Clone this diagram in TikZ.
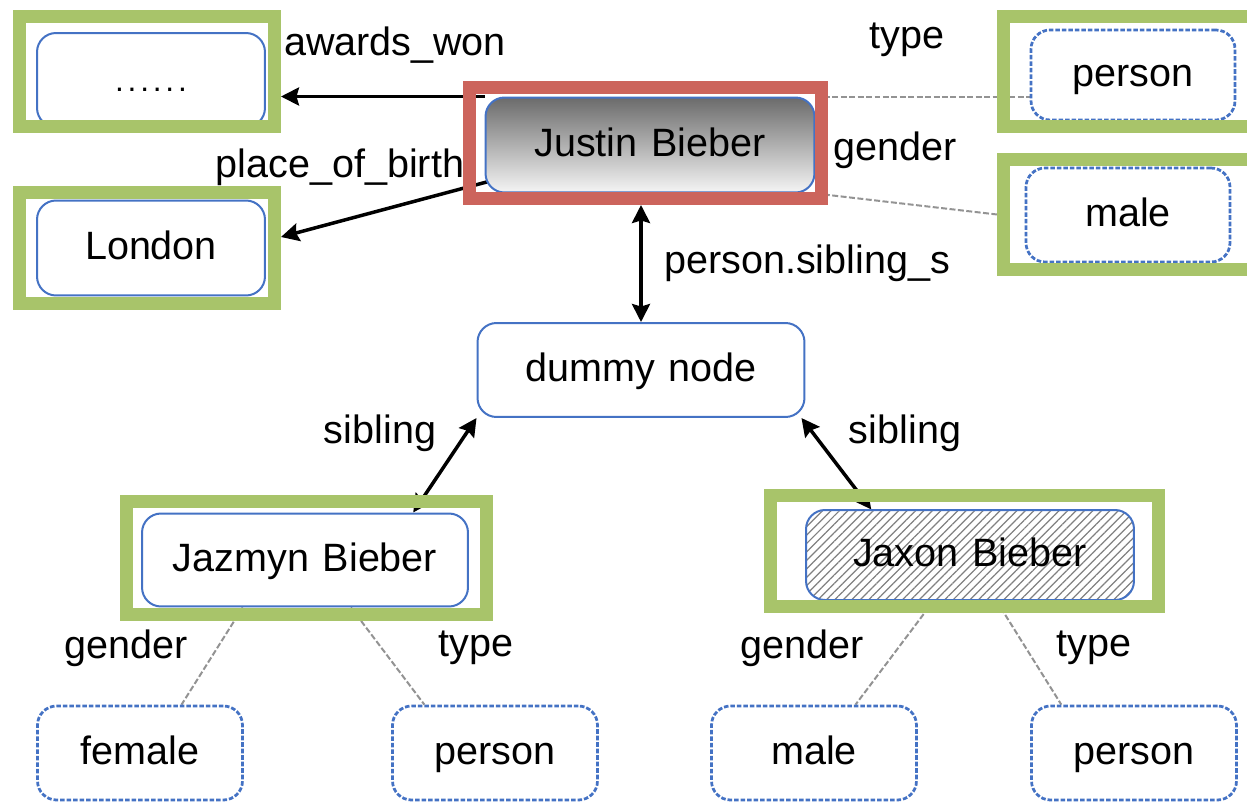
\documentclass[tikz,border=0pt]{standalone}
\usepackage{fontspec}
\setmainfont{Liberation Sans}
\usetikzlibrary{positioning,calc,arrows.meta,patterns.meta,backgrounds}

\definecolor{boxblue}{HTML}{4472C4}
\definecolor{framegreen}{HTML}{A8C46A}
\definecolor{framered}{HTML}{CC645C}

\tikzset{
  entity/.style={draw=boxblue, line width=0.04cm, rounded corners=0.38cm, fill=white, inner sep=0pt, text height=16pt, text depth=3pt},
  literal/.style={entity, dash pattern=on 2.6pt off 1.1pt, line width=0.055cm},
  gframe/.style={draw=framegreen, line width=0.26cm, inner sep=0pt},
  rframe/.style={draw=framered, line width=0.26cm, inner sep=0pt},
  rel/.style={line width=0.07cm, -{Stealth[length=0.36cm,width=0.36cm,inset=0.05cm]}},
  birel/.style={line width=0.07cm, {Stealth[length=0.36cm,width=0.36cm,inset=0.05cm]}-{Stealth[length=0.36cm,width=0.36cm,inset=0.05cm]}},
  attr/.style={draw=gray!85, line width=0.04cm, dash pattern=on 3.4pt off 1.4pt},
  lbl/.style={inner sep=0pt}
}

\begin{document}
\begin{tikzpicture}[x=0.02cm, y=-0.02cm, every node/.style={font=\fontsize{22.5}{26}\selectfont}]
  \useasboundingbox (0,0) rectangle (1247,801);

  % entities and literals
  \node[entity, minimum width=4.56cm, minimum height=1.88cm] (dots) at (151,80) {\fontsize{18}{20}\selectfont.\hspace{0.12em}.\hspace{0.12em}.\hspace{0.12em}.\hspace{0.12em}.\hspace{0.12em}.};
  \node[entity, minimum width=4.56cm, minimum height=1.9cm] (london) at (151,248) {London};
  \node[entity, top color=black!58, bottom color=black!4, minimum width=6.58cm, minimum height=1.9cm] (justin) at (650,145) {Justin\hspace{0.35em}Bieber};
  \node[literal, minimum width=4.08cm, minimum height=1.8cm] (typeP) at (1133,75) {person};
  \node[literal, minimum width=4.08cm, minimum height=1.88cm] (genderM) at (1128,215) {male};
  \node[entity, minimum width=6.54cm, minimum height=1.88cm] (dummy) at (641,370) {dummy\hspace{0.35em}node};
  \node[entity, minimum width=6.52cm, minimum height=1.86cm] (jazmyn) at (305,560) {Jazmyn\hspace{0.35em}Bieber};
  \node[entity, pattern={Lines[angle=45,distance=3.4pt,line width=0.7pt]}, pattern color=black!50, minimum width=6.56cm, minimum height=1.8cm] (jaxon) at (970,555) {Jaxon\hspace{0.35em}Bieber};
  \node[literal, minimum width=4.1cm, minimum height=1.88cm] (female) at (140,753) {female};
  \node[literal, minimum width=4.1cm, minimum height=1.88cm] (personL) at (495,753) {person};
  \node[literal, minimum width=4.1cm, minimum height=1.88cm] (maleB) at (814,753) {male};
  \node[literal, minimum width=4.1cm, minimum height=1.88cm] (personR) at (1134,753) {person};

  % frames
  \node[gframe, minimum width=5.1cm, minimum height=2.2cm] (fDots) at (147,71.5) {};
  \node[gframe, minimum width=5.1cm, minimum height=2.22cm] (fLondon) at (147,248) {};
  \node[rframe, minimum width=7.04cm, minimum height=2.22cm] (fJustin) at (645.5,143) {};
  \node[gframe, minimum width=5.0cm, minimum height=2.2cm] (fPerson) at (1128.5,71.5) {};
  \node[gframe, minimum width=5.0cm, minimum height=2.2cm] (fMale) at (1128.5,214.5) {};
  \node[gframe, minimum width=7.2cm, minimum height=2.26cm] (fJazmyn) at (306.5,558) {};
  \node[gframe, minimum width=7.76cm, minimum height=2.22cm] (fJaxon) at (964.5,551) {};

  % connectors
  \begin{scope}[on background layer]
    \draw[rel] (justin.north west) -- (fDots.east |- justin.north west);
    \draw[rel] ($(justin.south west)+(4,-12)$) -- ($(fLondon.east)+(0,-11)$);
    \draw[attr] (justin.north east) -- (typeP.west |- justin.north east);
    \draw[attr] (justin.south east) -- (fMale.west);
    \draw[birel] (dummy.north |- fJustin.south) -- (dummy.north);
    \draw[birel] (dummy.south west) -- ($(jazmyn.north west)!0.83!(jazmyn.north east)$);
    \draw[birel] ($(dummy.south east)+(-4,0)$) -- ($(jaxon.north west)!0.2!(jaxon.north east)$);
    \draw[attr] ($(jazmyn.south west)!0.31!(jazmyn.south east)$) -- ($(female.north west)!0.7!(female.north east)$);
    \draw[attr] ($(jazmyn.south west)!0.64!(jazmyn.south east)$) -- ($(personL.north west)!0.16!(personL.north east)$);
    \draw[attr] ($(jaxon.south west)!0.39!(jaxon.south east)$) -- ($(maleB.north west)!0.7!(maleB.north east)$);
    \draw[attr] ($(jaxon.south west)!0.58!(jaxon.south east)$) -- ($(personR.north west)!0.15!(personR.north east)$);
  \end{scope}

  % labels
  \node[lbl] (lAwards) at (395,45) {awards\_won};
  \node[lbl] (lBirth) at (340,167) {place\_of\_birth};
  \node[lbl] (lType) at (907,40) {type};
  \node[lbl] (lGender) at (895,150) {gender};
  \node[lbl] (lSib) at (807,263) {person.sibling\_s};
  \node[lbl] (lSibL) at (380,433) {sibling};
  \node[lbl] (lSibR) at (905,433) {sibling};
  \node[lbl] (lGenderL) at (126,648) {gender};
  \node[lbl] (lTypeL) at (476,648) {type};
  \node[lbl] (lGenderR) at (802,648) {gender};
  \node[lbl] (lTypeR) at (1094,648) {type};
\end{tikzpicture}
\end{document}
